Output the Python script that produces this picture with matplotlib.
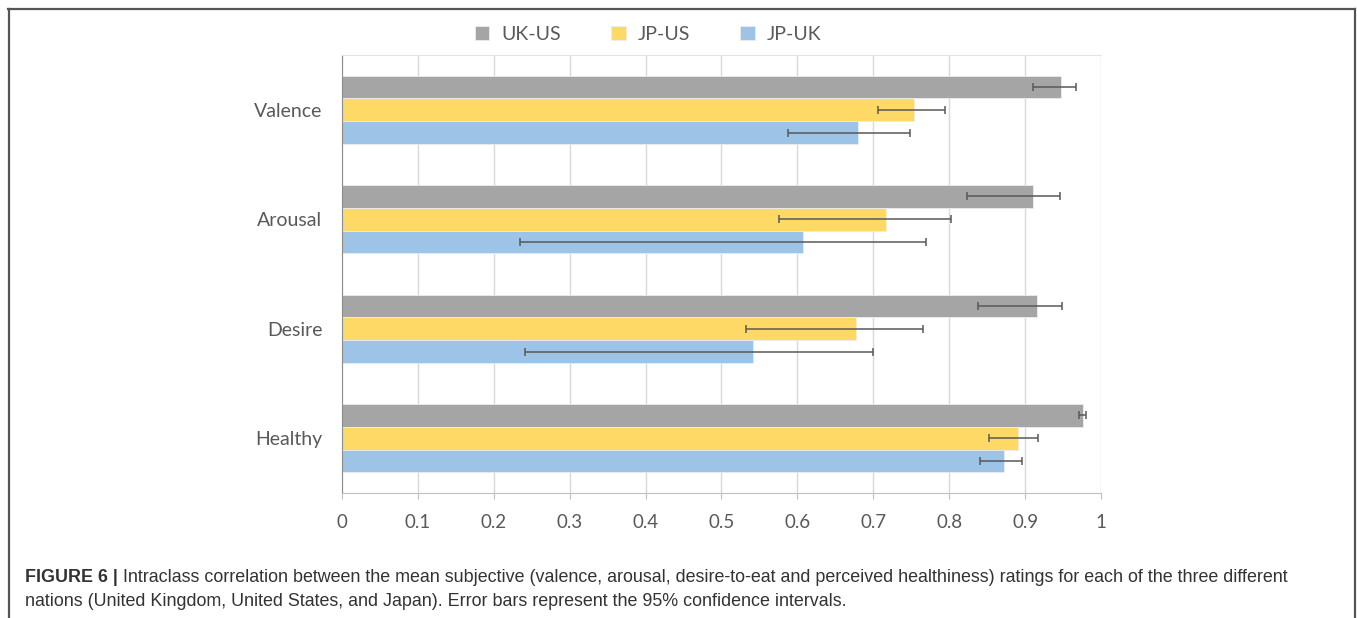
import numpy as np
import matplotlib.pyplot as plt
from matplotlib.lines import Line2D

categories = ["Healthy", "Desire", "Arousal", "Valence"]
series = ["UK-US", "JP-US", "JP-UK"]

# ICC values (bottom to top: Healthy, Desire, Arousal, Valence)
uk_us = [0.976, 0.916, 0.910, 0.947]
uk_us_lo = [0.971, 0.838, 0.823, 0.910]
uk_us_hi = [0.980, 0.949, 0.946, 0.967]

jp_us = [0.891, 0.677, 0.717, 0.754]
jp_us_lo = [0.852, 0.532, 0.576, 0.706]
jp_us_hi = [0.917, 0.766, 0.802, 0.795]

jp_uk = [0.872, 0.541, 0.608, 0.680]
jp_uk_lo = [0.841, 0.241, 0.235, 0.587]
jp_uk_hi = [0.896, 0.700, 0.770, 0.748]

colors = ["#A5A5A5", "#FFD966", "#9DC3E6"]
txt = "#595959"

fig = plt.figure(figsize=(13.57, 6.18), dpi=100)
ax = fig.add_axes([342/1357, 1-493/618, 759/1357, 438/618])

y = np.arange(len(categories))
h = 0.208
data = [(uk_us, uk_us_lo, uk_us_hi), (jp_us, jp_us_lo, jp_us_hi), (jp_uk, jp_uk_lo, jp_uk_hi)]
offsets = [h, 0, -h]
for (vals, lo, hi), off, c, name in zip(data, offsets, colors, series):
    vals = np.array(vals)
    err = [vals - np.array(lo), np.array(hi) - vals]
    ax.barh(y + off, vals, height=h, color=c, edgecolor="#EDEDED", linewidth=0.6,
            label=name, zorder=2)
    ax.errorbar(vals, y + off, xerr=err, fmt="none", ecolor="#595959",
                elinewidth=1.1, capsize=3.0, capthick=1.1, zorder=3)

ax.set_xlim(0, 1)
ax.set_ylim(-0.5, 3.5)
ax.set_xticks(np.arange(0, 1.01, 0.1))
ax.set_xticklabels(["0", "0.1", "0.2", "0.3", "0.4", "0.5", "0.6", "0.7", "0.8", "0.9", "1"])
ax.set_yticks(y)
ax.set_yticklabels(categories)
ax.grid(axis="x", color="#D9D9D9", linewidth=1, zorder=0)
ax.set_axisbelow(True)

for lab in ax.get_xticklabels() + ax.get_yticklabels():
    lab.set_family("Lato")
    lab.set_color(txt)
ax.tick_params(axis="x", labelsize=13.5, length=4, color="#BFBFBF", pad=11)
ax.tick_params(axis="y", labelsize=14, length=0, pad=14)

ax.spines["right"].set_visible(False)
ax.spines["top"].set_color("#E3E3E3")
ax.spines["bottom"].set_color("#BFBFBF")
ax.spines["left"].set_color("#8C8C8C")

leg = fig.legend(loc="center", bbox_to_anchor=(648/1357, 1-34/618), ncol=3,
                 frameon=False, handlelength=0.75, handleheight=0.75,
                 handletextpad=0.6, columnspacing=2.6,
                 prop={"family": "Lato", "size": 14})
for t in leg.get_texts():
    t.set_color(txt)

# frame around the figure
fw, fh = 1357, 618
bc = "#555555"
fig.add_artist(Line2D([8/fw, 1355/fw], [1-8.5/fh, 1-8.5/fh], color=bc, lw=1.6))
fig.add_artist(Line2D([8.5/fw, 8.5/fw], [0, 1-8.5/fh], color=bc, lw=1.6))
fig.add_artist(Line2D([1354.5/fw, 1354.5/fw], [0, 1-8.5/fh], color=bc, lw=1.6))

# caption
cap_font = ["Liberation Sans", "DejaVu Sans"]
cs = 12.9
t1 = fig.text(25/fw, 1-577/fh, "FIGURE 6 |", family=cap_font, weight="bold",
              size=cs, color="#333333", va="center")
fig.canvas.draw()
bb = t1.get_window_extent()
fig.text((bb.x1 + 5)/fw, 1-577/fh,
         "Intraclass correlation between the mean subjective (valence, arousal, desire-to-eat and perceived healthiness) ratings for each of the three different",
         family=cap_font, size=cs, color="#333333", va="center")
fig.text(25/fw, 1-602/fh,
         "nations (United Kingdom, United States, and Japan). Error bars represent the 95% confidence intervals.",
         family=cap_font, size=cs, color="#333333", va="center")

fig.savefig("out.png", dpi=100)
